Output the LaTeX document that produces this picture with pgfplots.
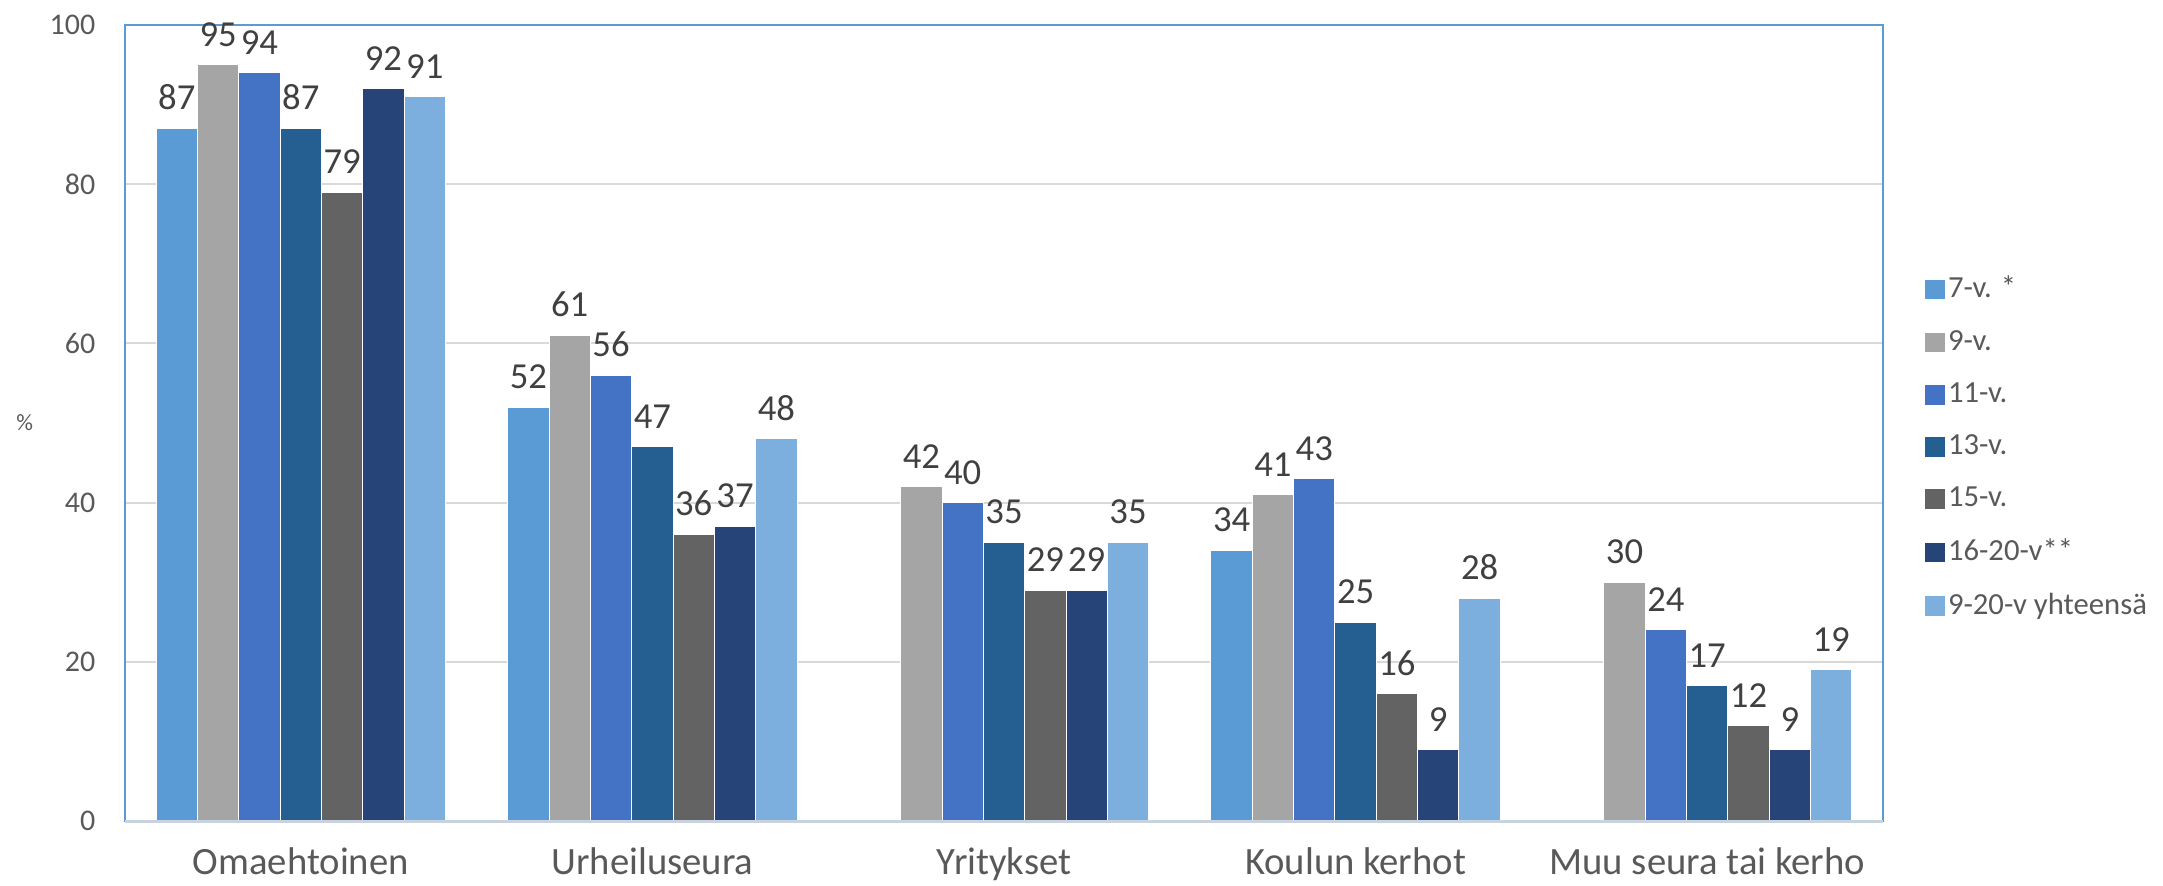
\documentclass[border=0pt]{standalone}
\usepackage{fontspec}
\setmainfont{Carlito}
\usepackage{pgfplots}
\pgfplotsset{compat=1.18}

\definecolor{c7}{HTML}{5B9BD5}
\definecolor{c9}{HTML}{A5A5A5}
\definecolor{c11}{HTML}{4472C4}
\definecolor{c13}{HTML}{255E91}
\definecolor{c15}{HTML}{636363}
\definecolor{c16}{HTML}{264478}
\definecolor{ctot}{HTML}{7CAFDD}
\definecolor{frameblue}{HTML}{5B9BD5}
\definecolor{gridgray}{HTML}{D9D9D9}
\definecolor{basegray}{HTML}{C9D3DF}
\definecolor{labgray}{HTML}{595959}
\definecolor{valgray}{HTML}{404040}

\begin{document}
\begin{tikzpicture}
\begin{axis}[
  name=main,
  scale only axis, width=527.4pt, height=238.8pt,
  ybar=0pt, bar width=12.4pt,
  xmin=-0.5, xmax=4.5, ymin=0, ymax=100,
  xtick={0,1,2,3,4},
  xticklabels={Omaehtoinen,Urheiluseura,Yritykset,Koulun kerhot,Muu seura tai kerho},
  ytick={0,20,40,60,80,100},
  major tick length=0pt,
  ymajorgrids, grid style={gridgray, line width=0.6pt},
  axis line style={frameblue, line width=0.6pt},
  clip=false,
  /pgf/number format/assume math mode=true,
  xticklabel style={font=\fontsize{11.6}{13}\selectfont, text=labgray, yshift=-4.6pt},
  yticklabel style={font=\fontsize{9}{11}\selectfont, text=labgray, xshift=-5.4pt},
  ylabel={\%},
  ylabel style={font=\fontsize{7}{8}\selectfont, text=labgray, rotate=-90,
                at={(axis description cs:-0.057,0.5)}, anchor=center},
  nodes near coords,
  nodes near coords style={font=\fontsize{11}{13}\selectfont, text=valgray, yshift=2pt},
  every axis plot/.append style={draw=white, line width=0.3pt},
  legend cell align=left,
  legend style={draw=none, fill=none, at={(1.018,0.469)}, anchor=west,
                font=\fontsize{9.2}{11}\selectfont, text=labgray,
                row sep=6.2pt, nodes={inner sep=1pt}},
  legend image code/.code={\fill[#1,draw=none] (0pt,-2.9pt) rectangle (5.8pt,2.9pt);},
]
\addplot[fill=c7] coordinates {(0,87) (1,52) (3,34)};
\addplot[fill=c9] coordinates {(0,95) (1,61) (2,42) (3,41) (4,30)};
\addplot[fill=c11] coordinates {(0,94) (1,56) (2,40) (3,43) (4,24)};
\addplot[fill=c13] coordinates {(0,87) (1,47) (2,35) (3,25) (4,17)};
\addplot[fill=c15] coordinates {(0,79) (1,36) (2,29) (3,16) (4,12)};
\addplot[fill=c16] coordinates {(0,92) (1,37) (2,29) (3,9) (4,9)};
\addplot[fill=ctot] coordinates {(0,91) (1,48) (2,35) (3,28) (4,19)};
\legend{7-v. *, 9-v., 11-v., 13-v., 15-v., 16-20-v**, 9-20-v yhteensä}
\draw[basegray, line width=0.9pt] (rel axis cs:0,0) -- (rel axis cs:1,0);
\end{axis}
\pgfresetboundingbox
\path ([xshift=-37.5pt,yshift=-19.2pt]main.south west) rectangle ([xshift=84pt,yshift=7.5pt]main.north east);
\end{tikzpicture}
\end{document}
